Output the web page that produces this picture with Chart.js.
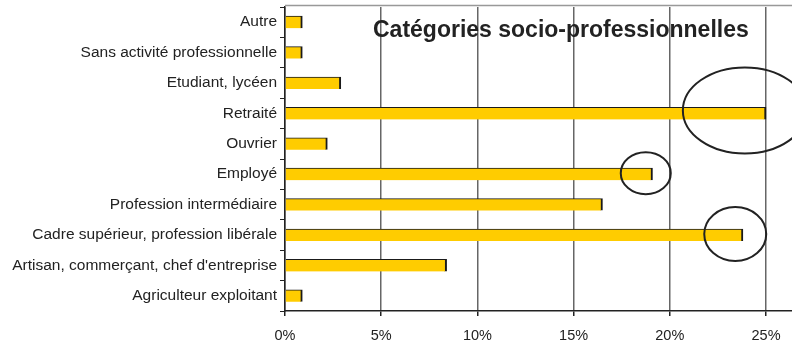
<!DOCTYPE html>
<html lang="fr">
<head>
  <meta charset="UTF-8">
  <title>Catégories socio-professionnelles</title>
  <script src="https://cdn.jsdelivr.net/npm/chart.js@4"></script>
  <style>
    html, body { margin: 0; padding: 0; background: #fff; }
    #chartContainer { width: 792px; height: 345px; }
  </style>
</head>
<body>
  <div id="chartContainer">
    <canvas id="chart"></canvas>
  </div>
  <script>
    // categories, top to bottom
    var categories = [
      'Autre',
      'Sans activité professionnelle',
      'Etudiant, lycéen',
      'Retraité',
      'Ouvrier',
      'Employé',
      'Profession intermédiaire',
      'Cadre supérieur, profession libérale',
      "Artisan, commerçant, chef d'entreprise",
      'Agriculteur exploitant'
    ];
    // share of respondents, in %
    var shares = [0.9, 0.9, 2.9, 25.0, 2.2, 19.1, 16.5, 23.8, 8.4, 0.9];
    var tickValues = [0, 5, 10, 15, 20, 25];
    var chartTitle = 'Catégories socio-professionnelles';

    var FONT = '"Liberation Sans", Arial, sans-serif';
    var TEXT = '#222';

    // hand-drawn style circles around some bars
    var circles = [
      { cat: 'Retraité', x: 23.9, rx: 62, ry: 43, dy: -3 },
      { cat: 'Employé', x: 18.75, rx: 25, ry: 21, dy: -1 },
      { cat: 'Cadre supérieur, profession libérale', x: 23.4, rx: 31, ry: 27, dy: -1 }
    ];

    var decorPlugin = {
      id: 'decor',
      afterDatasetsDraw: function(chart) {
        var ctx = chart.ctx, area = chart.chartArea;
        var xs = chart.scales.x, ys = chart.scales.y;
        ctx.save();
        // top frame line
        ctx.strokeStyle = '#999';
        ctx.lineWidth = 1.5;
        ctx.beginPath();
        ctx.moveTo(area.left, area.top - 1.5);
        ctx.lineTo(area.right, area.top - 1.5);
        ctx.stroke();

        // circles
        ctx.strokeStyle = '#222';
        ctx.lineWidth = 2;
        circles.forEach(function(c) {
          var cx = xs.getPixelForValue(c.x);
          var cy = ys.getPixelForValue(categories.indexOf(c.cat)) + c.dy;
          ctx.beginPath();
          ctx.ellipse(cx, cy, c.rx, c.ry, 0, 0, Math.PI * 2);
          ctx.stroke();
        });

        // title inside the plot
        ctx.fillStyle = TEXT;
        ctx.font = 'bold 23px ' + FONT;
        ctx.textAlign = 'left';
        ctx.textBaseline = 'middle';
        ctx.fillText(chartTitle, 373, 31);
        ctx.restore();
      }
    };

    var ctx = document.getElementById('chart').getContext('2d');
    var myChart = new Chart(ctx, {
      type: 'bar',
      data: {
        labels: categories,
        datasets: [{
          data: shares,
          backgroundColor: '#FFCC00',
          borderColor: '#1a1a1a',
          borderWidth: { top: 1, right: 2, bottom: 0, left: 0 },
          borderSkipped: false,
          barThickness: 12
        }]
      },
      options: {
        indexAxis: 'y',
        responsive: true,
        maintainAspectRatio: false,
        animation: false,
        layout: { padding: { top: 7, right: 0, bottom: 0, left: 0 } },
        plugins: {
          legend: { display: false },
          tooltip: { enabled: false },
          title: { display: false }
        },
        scales: {
          x: {
            min: 0,
            max: 26.35,
            afterBuildTicks: function(scale) {
              scale.ticks = tickValues.map(function(v) { return { value: v }; });
            },
            afterFit: function(scale) {
              scale.height = 34;
            },
            ticks: {
              color: TEXT,
              font: { family: FONT, size: 14.5 },
              padding: 11,
              maxRotation: 0,
              callback: function(v) { return v + '%'; }
            },
            grid: {
              color: '#666',
              lineWidth: 1.5,
              tickColor: '#222',
              tickLength: 5
            },
            border: { color: '#222', width: 1.5 }
          },
          y: {
            afterFit: function(scale) {
              scale.width = 285;
              scale.paddingTop = 0;
              scale.paddingBottom = 0;
            },
            ticks: {
              color: TEXT,
              font: { family: FONT, size: 15.5 },
              padding: 3,
              autoSkip: false
            },
            grid: {
              offset: true,
              drawOnChartArea: false,
              color: '#222',
              tickLength: 5
            },
            border: { color: '#222', width: 1.5 }
          }
        }
      },
      plugins: [decorPlugin]
    });
  </script>
</body>
</html>
